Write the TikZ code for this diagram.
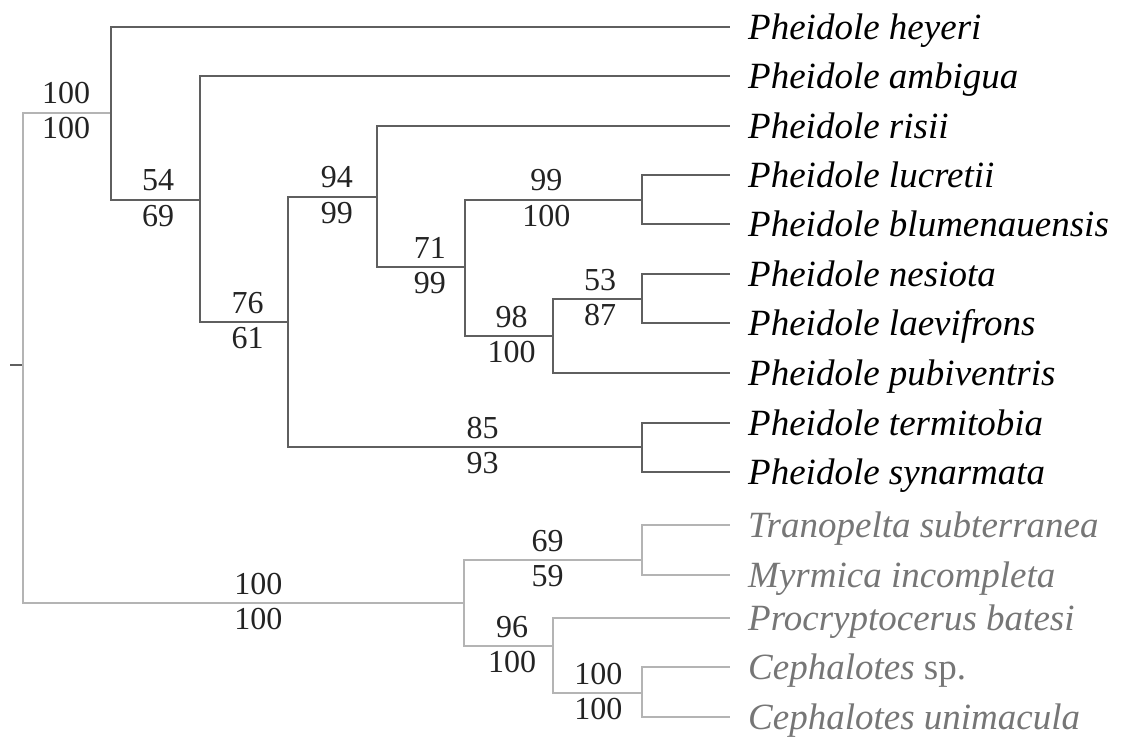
\documentclass[tikz,border=0pt]{standalone}
\usepackage{fontspec}
\setmainfont{Liberation Serif}
\usepackage{tikz}
\usetikzlibrary{calc}
\definecolor{clade}{RGB}{95,95,95}
\definecolor{outg}{RGB}{180,180,180}
\definecolor{outtext}{RGB}{118,118,118}
\definecolor{numtext}{RGB}{35,35,35}

\begin{document}
\begin{tikzpicture}[x=1pt,y=-1pt,
  branch/.style={draw=clade,line width=1.4pt},
  obranch/.style={draw=outg,line width=1.4pt},
  taxon/.style={anchor=base west,xshift=18pt,yshift=-12.5pt,inner sep=0pt,font=\fontsize{37}{40}\selectfont\itshape},
  upval/.style={pos=.77,anchor=base,yshift=9pt,inner sep=0pt,text=numtext,font=\fontsize{32}{34}\selectfont},
  lowval/.style={pos=.77,anchor=base,yshift=-26pt,inner sep=0pt,text=numtext,font=\fontsize{32}{34}\selectfont}]
\useasboundingbox (0,0) rectangle (1121,738);

\coordinate (stub) at (10,365);
\coordinate (root) at (23,365);
\coordinate (A) at (111,113);
\coordinate (B) at (200,200);
\coordinate (C) at (288,322);
\coordinate (D) at (377,197);
\coordinate (E) at (465,267);
\coordinate (F) at (642,200);
\coordinate (G) at (553,336);
\coordinate (H) at (642,299);
\coordinate (I) at (642,447);
\coordinate (J) at (464,603);
\coordinate (K) at (642,560);
\coordinate (L) at (553,646);
\coordinate (M) at (642,693);

\coordinate (t1) at (730,27);
\coordinate (t2) at (730,76);
\coordinate (t3) at (730,126);
\coordinate (t4) at (730,175);
\coordinate (t5) at (730,224);
\coordinate (t6) at (730,274);
\coordinate (t7) at (730,323);
\coordinate (t8) at (730,373);
\coordinate (t9) at (730,423);
\coordinate (t10) at (730,472);
\coordinate (t11) at (730,525);
\coordinate (t12) at (730,575);
\coordinate (t13) at (730,618);
\coordinate (t14) at (730,667);
\coordinate (t15) at (730,717);

\node[taxon] (heyeri) at (t1) {Pheidole heyeri};
\node[taxon] (ambigua) at (t2) {Pheidole ambigua};
\node[taxon] (risii) at (t3) {Pheidole risii};
\node[taxon] (lucretii) at (t4) {Pheidole lucretii};
\node[taxon] (blumen) at (t5) {Pheidole blumenauensis};
\node[taxon] (nesiota) at (t6) {Pheidole nesiota};
\node[taxon] (laevifrons) at (t7) {Pheidole laevifrons};
\node[taxon] (pubiventris) at (t8) {Pheidole pubiventris};
\node[taxon] (termitobia) at (t9) {Pheidole termitobia};
\node[taxon] (synarmata) at (t10) {Pheidole synarmata};
\begin{scope}[every node/.append style={text=outtext}]
\node[taxon] (tranopelta) at (t11) {Tranopelta subterranea};
\node[taxon] (myrmica) at (t12) {Myrmica incompleta};
\node[taxon] (procrypto) at (t13) {Procryptocerus batesi};
\node[taxon] (cephsp) at (t14) {Cephalotes {\upshape sp.}};
\node[taxon] (cephuni) at (t15) {Cephalotes unimacula};
\end{scope}

\draw[branch] (stub) -- (root);
\draw[obranch] (root) |- node[upval,pos=.745] {100} node[lowval,pos=.745] {100} (A);
\draw[branch] (A) |- (t1);
\draw[branch] (A) |- node[upval,pos=.765] {54} node[lowval,pos=.765] {69} (B);
\draw[branch] (B) |- (t2);
\draw[branch] (B) |- node[upval] {76} node[lowval] {61} (C);
\draw[branch] (C) |- node[upval,pos=.775] {94} node[lowval,pos=.775] {99} (D);
\draw[branch] (C) |- node[upval,pos=.775] {85} node[lowval,pos=.775] {93} (I);
\draw[branch] (D) |- (t3);
\draw[branch] (D) |- node[upval,pos=.8] {71} node[lowval,pos=.8] {99} (E);
\draw[branch] (E) |- node[upval,pos=.73] {99} node[lowval,pos=.73] {100} (F);
\draw[branch] (E) |- node[upval,pos=.765] {98} node[lowval,pos=.765] {100} (G);
\draw[branch] (F) |- (t4);
\draw[branch] (F) |- (t5);
\draw[branch] (G) |- node[upval,pos=.765] {53} node[lowval,pos=.765] {87} (H);
\draw[branch] (G) |- (t8);
\draw[branch] (H) |- (t6);
\draw[branch] (H) |- (t7);
\draw[branch] (I) |- (t9);
\draw[branch] (I) |- (t10);

\begin{scope}[every node/.append style={text=outtext}]
\draw[obranch] (root) |- node[upval,pos=.767] {100} node[lowval,pos=.767] {100} (J);
\draw[obranch] (J) |- node[upval,pos=.735] {69} node[lowval,pos=.735] {59} (K);
\draw[obranch] (J) |- node[upval] {96} node[lowval] {100} (L);
\draw[obranch] (K) |- (t11);
\draw[obranch] (K) |- (t12);
\draw[obranch] (L) |- (t13);
\draw[obranch] (L) |- node[upval,pos=.755] {100} node[lowval,pos=.755] {100} (M);
\draw[obranch] (M) |- (t14);
\draw[obranch] (M) |- (t15);
\end{scope}
\end{tikzpicture}
\end{document}
